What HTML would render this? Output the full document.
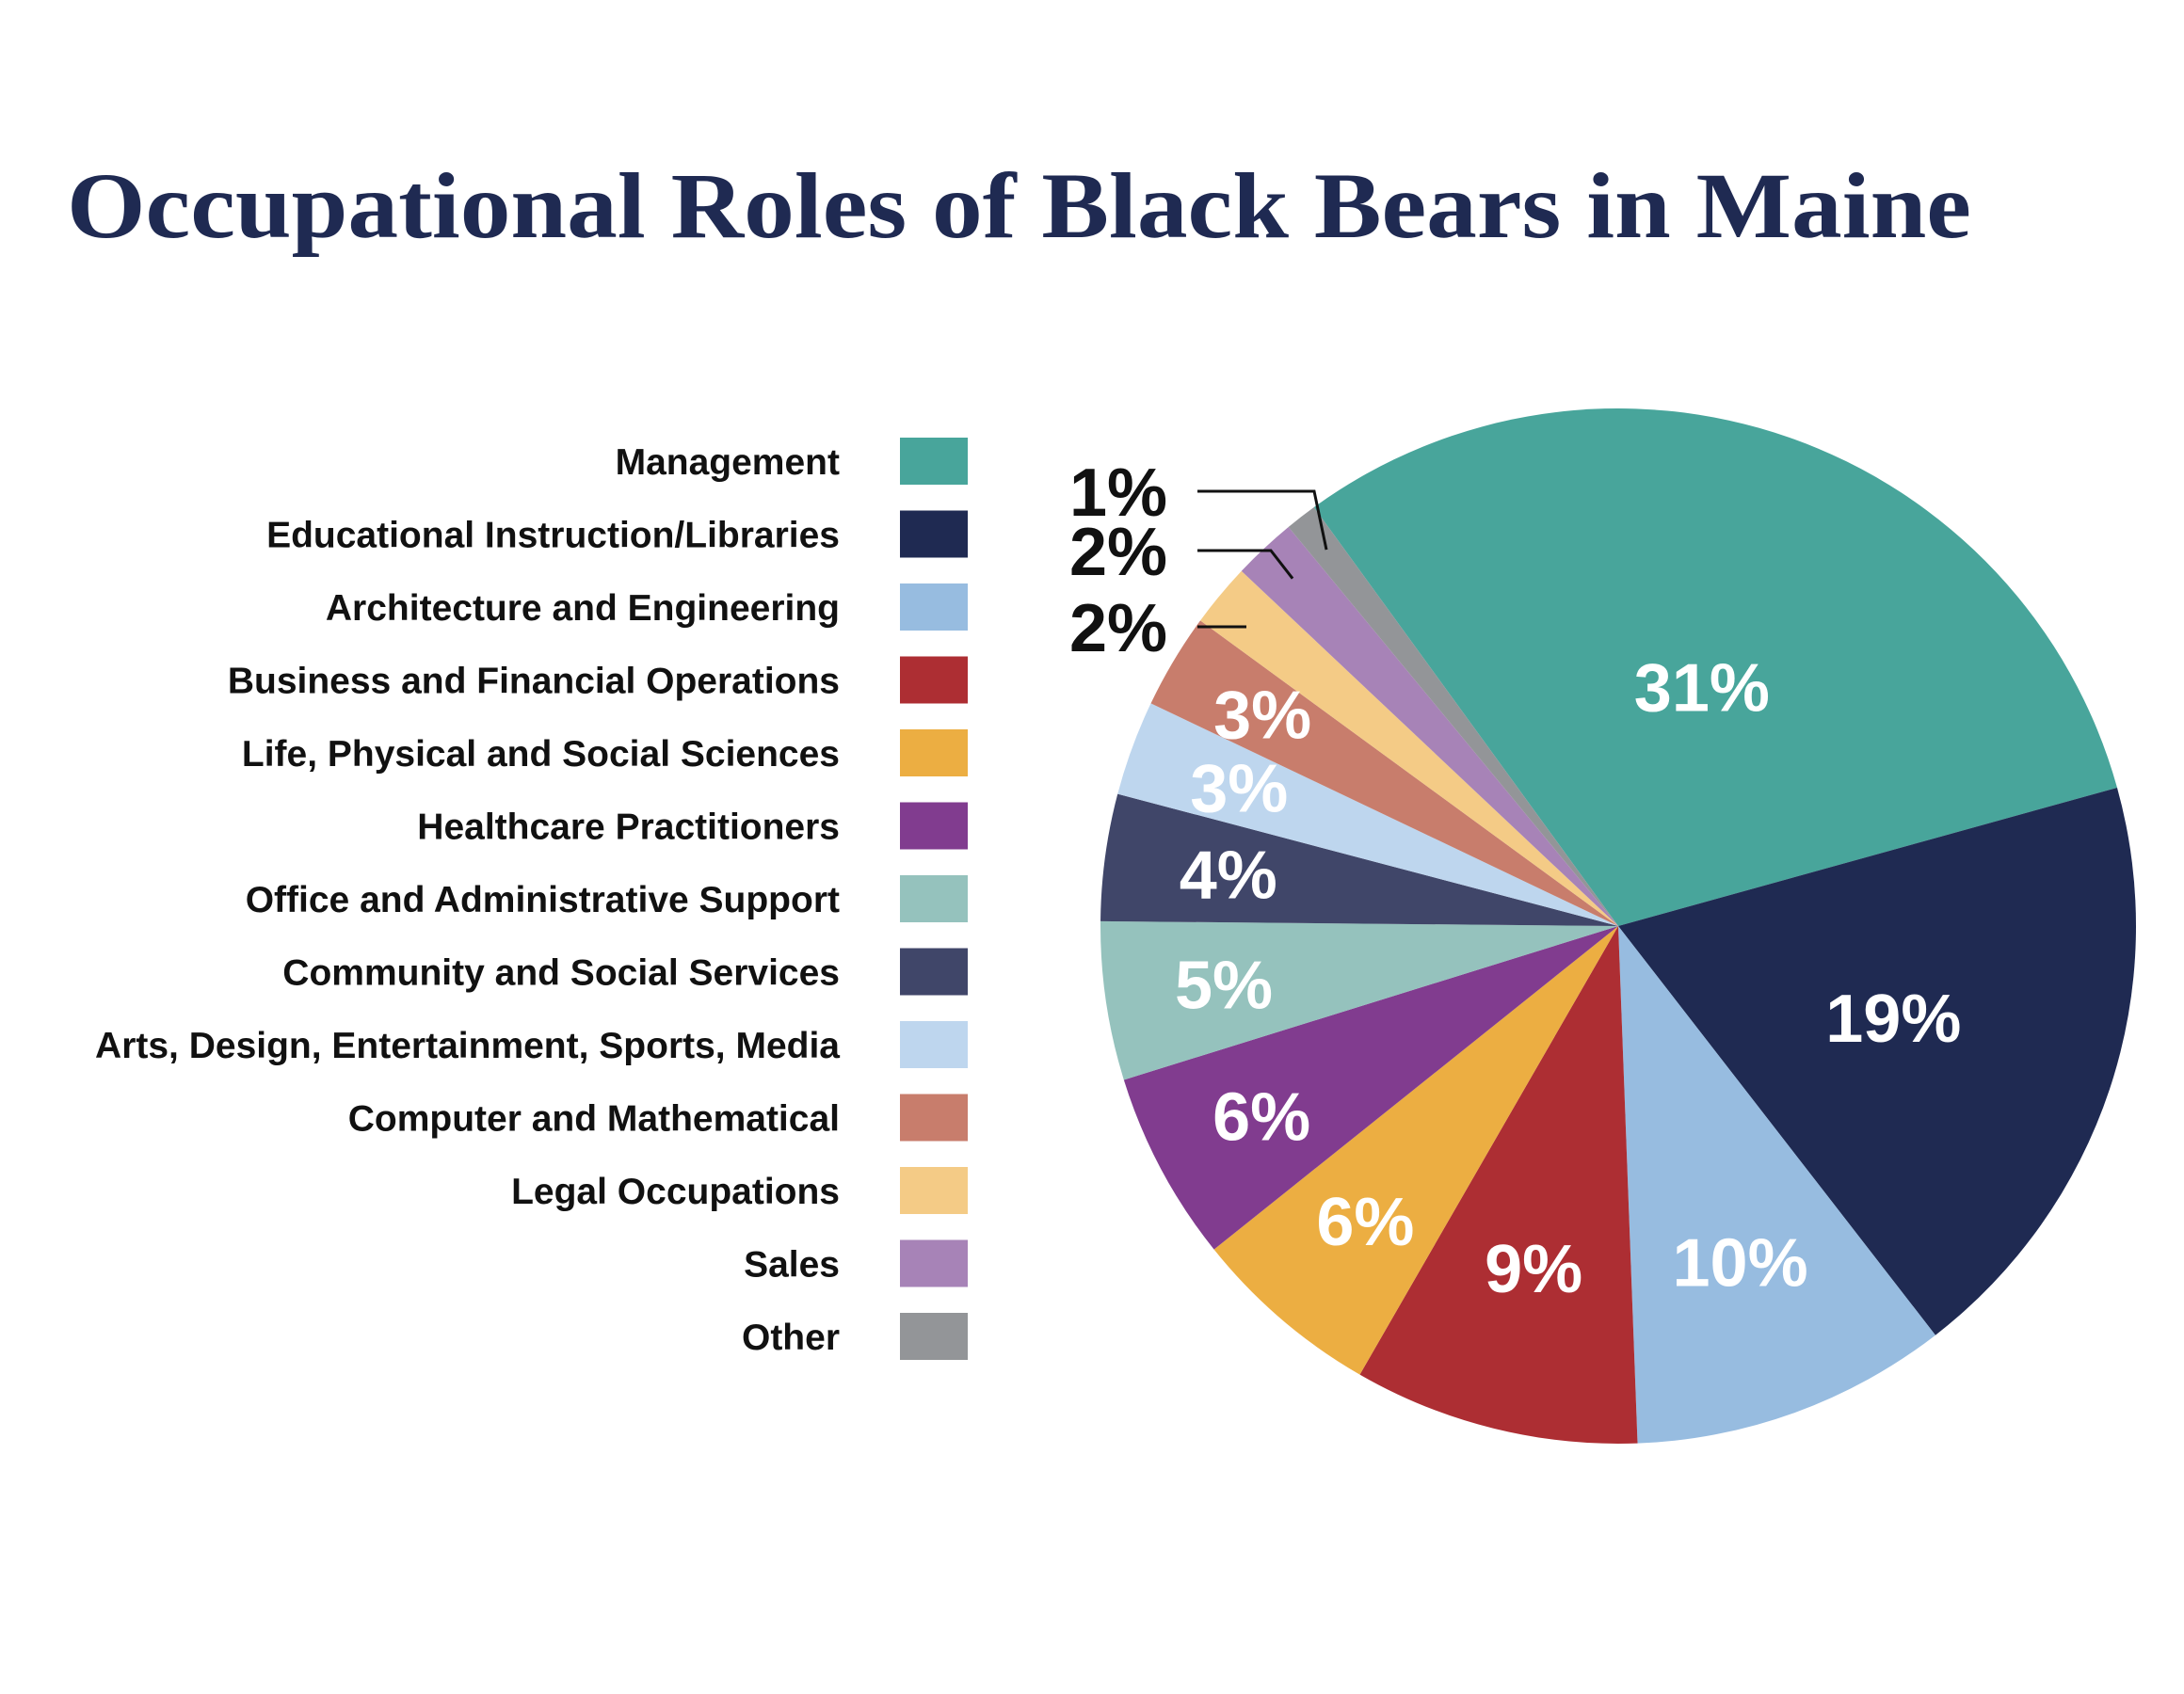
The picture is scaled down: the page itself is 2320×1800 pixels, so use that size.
<!DOCTYPE html>
<html><head><meta charset="utf-8"><style>
html,body{margin:0;padding:0;background:#fff;}
svg{display:block;}
.lg{font-family:"Liberation Sans Narrow","Liberation Sans",sans-serif;font-weight:bold;font-size:39px;fill:#111;}
.pct{font-family:"Liberation Sans Narrow","Liberation Sans",sans-serif;font-weight:bold;font-size:72px;}
</style></head><body>
<svg id="chart" width="2320" height="1800" viewBox="0 0 2320 1800" xmlns="http://www.w3.org/2000/svg">
<text x="71" y="252" font-family="'Liberation Serif',serif" font-weight="bold" font-size="100" fill="#1f2a52" textLength="2023" lengthAdjust="spacingAndGlyphs">Occupational Roles of Black Bears in Maine</text>
<g id="legend"></g>
<g id="slices"></g>
<g id="labels"></g>
</svg>
<script>
const categories = ["Management","Educational Instruction/Libraries","Architecture and Engineering","Business and Financial Operations","Life, Physical and Social Sciences","Healthcare Practitioners","Office and Administrative Support","Community and Social Services","Arts, Design, Entertainment, Sports, Media","Computer and Mathematical","Legal Occupations","Sales","Other"];
const values = [31,19,10,9,6,6,5,4,3,3,2,2,1];
const valueLabels = ["31%","19%","10%","9%","6%","6%","5%","4%","3%","3%","2%","2%","1%"];
const colors = ["#48a59b","#1f2a52","#97bce0","#ad2e33","#ecae42","#813c8f","#95c2bd","#404669","#bed6ee","#c87d6c","#f4cb86","#a783b7","#939598"];
const NS="http://www.w3.org/2000/svg";
const cx=1719, cy=984, R=550, startDeg=-36;
const labelR=[0.49,0.56,0.69,0.68,0.75,0.78,0.77,0.76,0.78,0.8];
const total=values.reduce((a,b)=>a+b,0);
function pt(deg,r){const a=(deg-90)*Math.PI/180;return [cx+r*Math.cos(a),cy+r*Math.sin(a)];}
const gS=document.getElementById('slices'),gL=document.getElementById('labels'),gLeg=document.getElementById('legend');
let ang=startDeg;
values.forEach((v,i)=>{
  const span=v/total*360, a0=ang, a1=ang+span; ang=a1;
  const p0=pt(a0,R),p1=pt(a1,R);
  const path=document.createElementNS(NS,'path');
  path.setAttribute('d',`M${cx},${cy} L${p0[0]},${p0[1]} A${R},${R} 0 ${span>180?1:0} 1 ${p1[0]},${p1[1]} Z`);
  path.setAttribute('fill',colors[i]);
  
  
  gS.appendChild(path);
  if(i<labelR.length){
    const m=pt((a0+a1)/2,R*labelR[i]);
    const t=document.createElementNS(NS,'text');
    t.setAttribute('x',m[0]);t.setAttribute('y',m[1]+26);
    t.setAttribute('text-anchor','middle');t.setAttribute('class','pct');t.setAttribute('fill','#fff');
    
    
    t.textContent=valueLabels[i];gL.appendChild(t);
  } else {
    const k=i-labelR.length; // 0 legal,1 sales,2 other
    const ty=[666,585,522][k];
    const t=document.createElementNS(NS,'text');
    t.setAttribute('x',1240);t.setAttribute('y',ty+26);
    t.setAttribute('text-anchor','end');t.setAttribute('class','pct');t.setAttribute('fill','#111');
    
    
    t.textContent=valueLabels[i];gL.appendChild(t);
    const ln=document.createElementNS(NS,'polyline');
    let pts;
    if(k===0){pts=`1272,${ty} 1324,${ty}`;}
    else{const m=pt((a0+a1)/2,R*0.92);const bx=[0,1350,1396][k];pts=`1272,${ty} ${bx},${ty} ${m[0]},${m[1]}`;}
    ln.setAttribute('points',pts);
    ln.setAttribute('fill','none');ln.setAttribute('stroke','#111');ln.setAttribute('stroke-width','3');
    
    
    gL.appendChild(ln);
  }
  const y=490+i*77.5;
  const lt=document.createElementNS(NS,'text');
  lt.setAttribute('x',892);lt.setAttribute('y',y+14);lt.setAttribute('text-anchor','end');lt.setAttribute('class','lg');
  
  
  lt.textContent=categories[i];gLeg.appendChild(lt);
  const sw=document.createElementNS(NS,'rect');
  sw.setAttribute('x',956);sw.setAttribute('y',y-25);sw.setAttribute('width',72);sw.setAttribute('height',50);sw.setAttribute('fill',colors[i]);
  
  
  gLeg.appendChild(sw);
});
</script>
</body></html>
